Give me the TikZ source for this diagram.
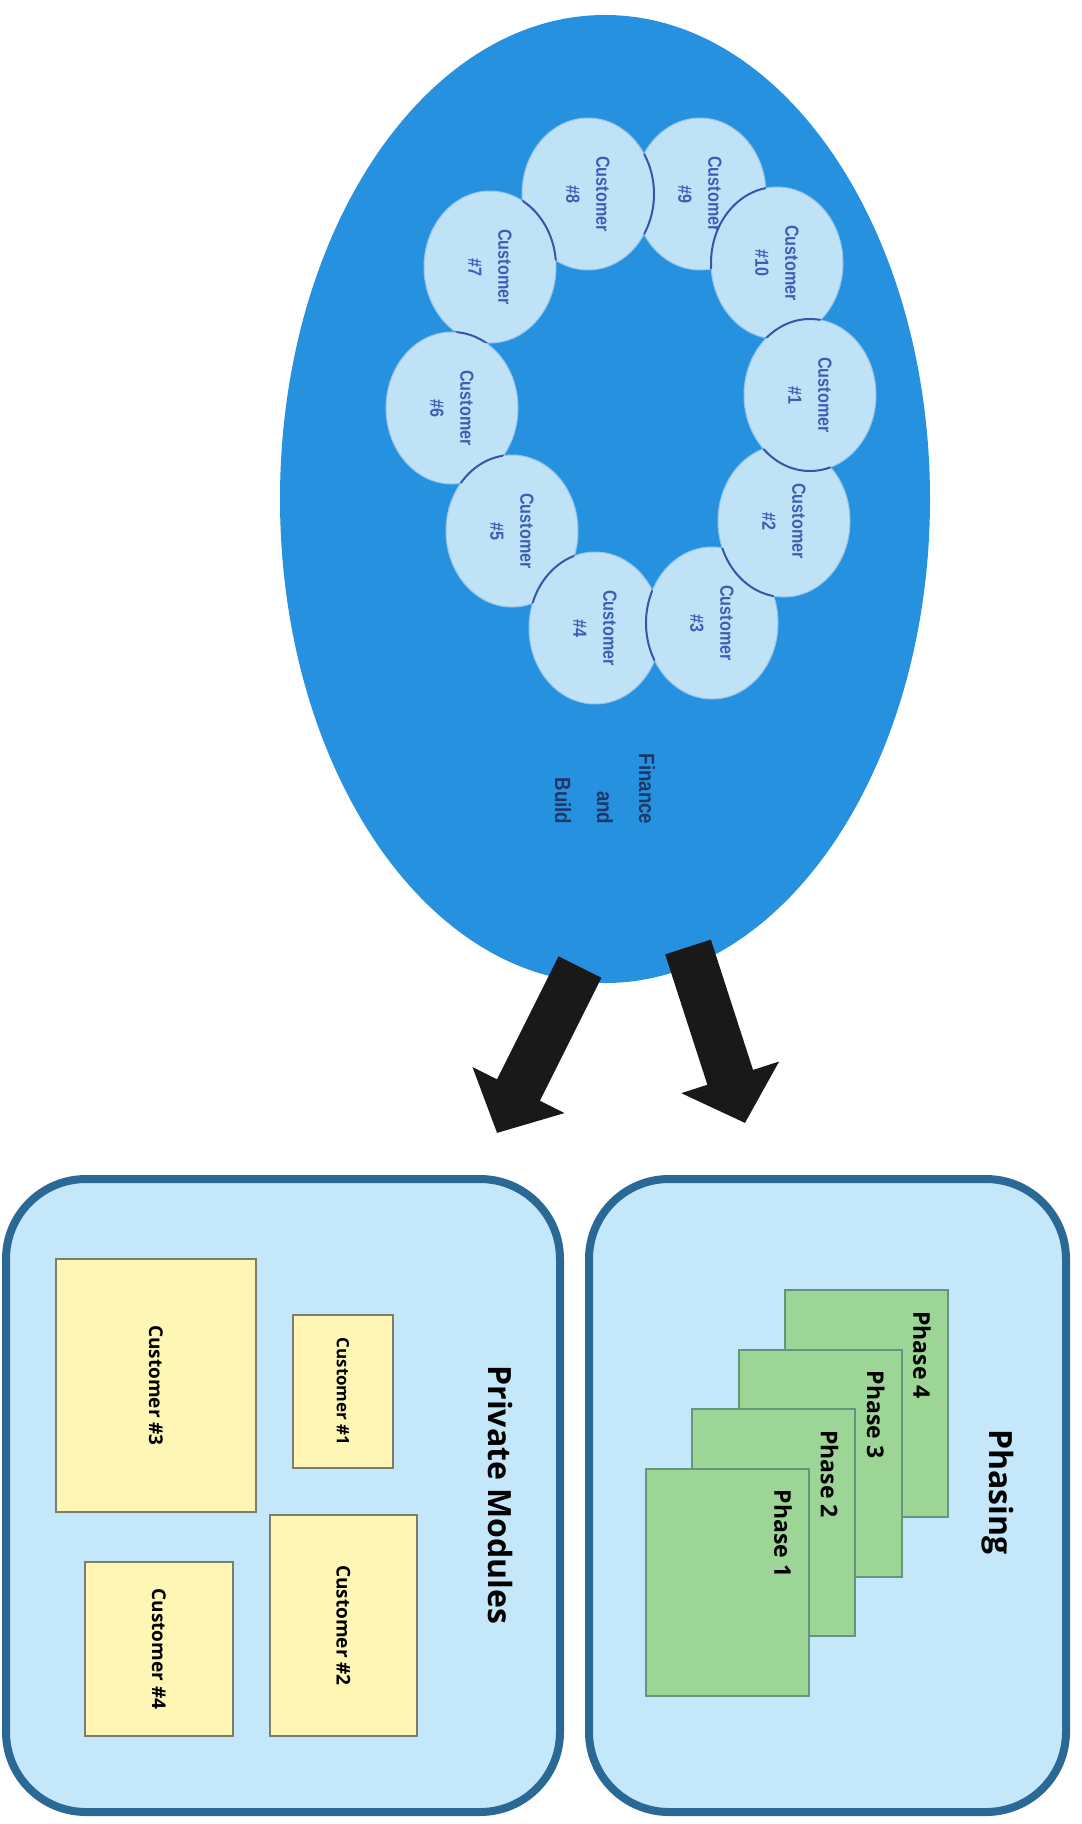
\documentclass[tikz,border=0pt]{standalone}
\usepackage{fontspec}
\setmainfont{Open Sans}
\newfontfamily\ringfont[FakeStretch=0.85]{Liberation Sans}
\definecolor{hubblue}{RGB}{38,145,222}
\definecolor{ringfill}{RGB}{192,226,246}
\definecolor{ringedge}{RGB}{150,195,235}
\definecolor{ringline}{RGB}{55,85,170}
\definecolor{ringtext}{RGB}{60,95,180}
\definecolor{hubtext}{RGB}{30,55,105}
\definecolor{panelfill}{RGB}{196,231,249}
\definecolor{paneledge}{RGB}{42,104,150}
\definecolor{notefill}{RGB}{253,246,180}
\definecolor{noteedge}{RGB}{125,125,105}
\definecolor{phasefill}{RGB}{157,213,150}
\definecolor{phaseedge}{RGB}{100,150,125}
\definecolor{arrowblack}{RGB}{25,25,25}
\usetikzlibrary{arrows.meta, positioning, shapes.geometric}

\begin{document}
\begin{tikzpicture}[x=1pt, y=-1pt,
    hub/.style={ellipse, fill=hubblue, minimum width=650pt, minimum height=968pt, inner sep=0pt},
    hublabel/.style={rotate=-90, align=right, text=hubtext, font=\ringfont\bfseries\fontsize{22}{42}\selectfont},
    ring/.style={ellipse, rotate=-90, fill=ringfill, draw=ringedge, line width=1pt,
      minimum width=152pt, minimum height=132pt, inner sep=0pt, align=center,
      text=ringtext, font=\ringfont\bfseries\fontsize{19}{30}\selectfont},
    overlap/.style={draw=ringline, line width=2pt},
    bigarrow/.style={draw=arrowblack, line width=48pt, -{Triangle[width=100pt, length=48pt]}},
    panel/.style={draw=paneledge, fill=panelfill, line width=8pt, rounded corners=80pt, inner sep=0pt},
    paneltitle/.style={rotate=-90, font=\bfseries\fontsize{32}{38}\selectfont},
    note/.style={rotate=-90, draw=noteedge, fill=notefill, line width=2pt, inner sep=0pt,
      font=\bfseries\fontsize{19}{23}\selectfont},
    phasecard/.style={draw=phaseedge, fill=phasefill, line width=2pt,
      minimum width=163pt, minimum height=227pt, inner sep=0pt},
    phaselabel/.style={rotate=-90, font=\bfseries\fontsize{23}{27}\selectfont}]
  \useasboundingbox (0,0) rectangle (1082,1824);

  % finance and build
  \node[hub] (hub) at (605,499) {};
  \node[hublabel] (fab) at (605,789) {Finance\\and\\Build};
  \foreach \n/\cx/\cy in {9/700/194, 8/588/194, 7/490/267, 6/452/408, 5/512/531,
                          4/595/628, 3/712/623, 2/784/521, 10/777/263, 1/810/395}
    \node[ring] (cust\n) at (\cx,\cy) {Customer\\\#\n};
  % dark rim where one customer lies over the next
  \foreach \a/\b in {10/9, 8/9, 7/8, 6/7, 5/6, 4/5, 3/4, 2/3, 1/2, 1/10} {
    \begin{scope}
      \clip (cust\b.center) ellipse [x radius=66pt, y radius=76pt];
      \draw[overlap] (cust\a.center) ellipse [x radius=66pt, y radius=76pt];
    \end{scope}
  }

  % arrows
  \coordinate (ltail) at (580,967);
  \coordinate (ltip) at (497,1133);
  \coordinate (rtail) at (688,947);
  \coordinate (rtip) at (745,1123);
  \draw[bigarrow] (ltail) -- (ltip);
  \draw[bigarrow] (rtail) -- (rtip);

  % private modules
  \node[panel, minimum width=554pt, minimum height=633pt] (modules) at (283,1495.5) {};
  \node[paneltitle] (modtitle) at (500,1495) {Private Modules};
  \node[note, minimum width=253pt, minimum height=200pt] (note3) at (156,1385.5) {Customer \#3};
  \node[note, minimum width=153pt, minimum height=100pt, font=\bfseries\fontsize{17}{21}\selectfont]
    (note1) at (343,1391.5) {Customer \#1};
  \node[note, minimum width=221pt, minimum height=147pt] (note2) at (343.5,1625.5) {Customer \#2};
  \node[note, minimum width=174pt, minimum height=148pt] (note4) at (159,1649) {Customer \#4};

  % phasing
  \node[panel, minimum width=477pt, minimum height=633pt] (phasing) at (827.5,1495.5) {};
  \node[paneltitle] (phasetitle) at (998,1492) {Phasing};
  \foreach \i [evaluate=\i as \k using 4-\i] in {4,3,2,1} {
    \node[phasecard] (phase\i) at (866.5-46.3*\k, 1403.5+59.5*\k) {};
    \node[phaselabel] at ([shift={(-27,66)}]phase\i.north east) {Phase \i};
  }
\end{tikzpicture}
\end{document}
